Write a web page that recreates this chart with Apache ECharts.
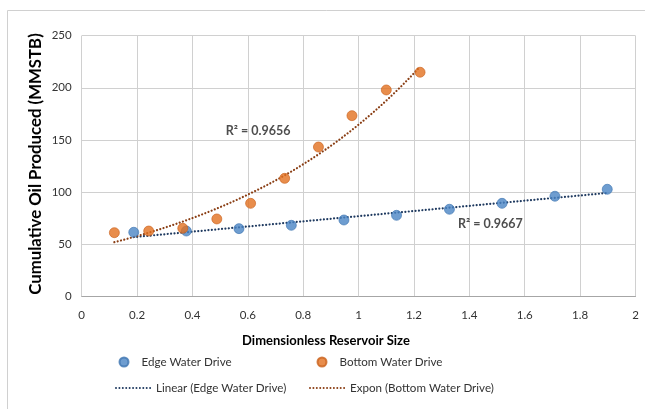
<!DOCTYPE html>
<html>
<head>
<meta charset="utf-8">
<script src="https://cdn.jsdelivr.net/npm/echarts@6/dist/echarts.min.js"></script>
<style>
  html, body { margin: 0; padding: 0; background: #fff; }
  #chart { width: 645px; height: 409px; }
</style>
</head>
<body>
<div id="chart"></div>
<script>
// Dimensionless reservoir size (x) and cumulative oil produced in MMSTB (y)
const edgeX = [0.188, 0.378, 0.568, 0.757, 0.947, 1.137, 1.328, 1.518, 1.709, 1.898];
const edgeY = [61.2, 62.4, 64.7, 67.9, 73.0, 77.5, 83.3, 89.0, 95.8, 102.5];
const bottomX = [0.118, 0.242, 0.365, 0.488, 0.610, 0.733, 0.855, 0.976, 1.100, 1.222];
const bottomY = [60.8, 62.4, 65.0, 74.0, 89.0, 113.0, 143.1, 173.2, 197.9, 214.9];

// Coefficient of determination labels for the two trendlines
const r2Labels = ['R² = 0.9656', 'R² = 0.9667'];
const r2Pos = [[0.637, 158.5], [1.476, 69.2]];

const FONT = 'Lato';

// Least-squares fit y = a + b x
function linearFit(xs, ys) {
  const n = xs.length;
  let sx = 0, sy = 0, sxx = 0, sxy = 0;
  for (let i = 0; i < n; i++) { sx += xs[i]; sy += ys[i]; sxx += xs[i] * xs[i]; sxy += xs[i] * ys[i]; }
  const b = (n * sxy - sx * sy) / (n * sxx - sx * sx);
  const a = (sy - b * sx) / n;
  return { a, b };
}
// Exponential fit y = A e^(k x), fitted on ln y
function expFit(xs, ys) {
  const f = linearFit(xs, ys.map(Math.log));
  return { A: Math.exp(f.a), k: f.b };
}

const lin = linearFit(edgeX, edgeY);
const ex = expFit(bottomX, bottomY);
const xMinE = Math.min(...edgeX), xMaxE = Math.max(...edgeX);
const linLine = [[xMinE, lin.a + lin.b * xMinE], [xMaxE, lin.a + lin.b * xMaxE]];
const xMinB = Math.min(...bottomX), xMaxB = Math.max(...bottomX);
const expLine = [];
for (let i = 0; i <= 60; i++) {
  const x = xMinB + (xMaxB - xMinB) * i / 60;
  expLine.push([x, ex.A * Math.exp(ex.k * x)]);
}

const blue = '#4A85C4';
const orange = '#E2701F';
const blueTrend = '#1F3A60';
const orangeTrend = '#8A3E14';
const dots = { width: 2.2, type: [0.01, 3.4], cap: 'round' };

const chart = echarts.init(document.getElementById('chart'), null, { renderer: 'canvas' });

const legendBase = {
  orient: 'horizontal',
  itemGap: 10,
  textStyle: { fontFamily: FONT, fontSize: 11.6, color: '#333' },
  selectedMode: false
};

chart.setOption({
  animation: false,
  backgroundColor: '#fff',
  textStyle: { fontFamily: FONT },
  grid: { left: 81.7, right: 9.5, top: 35.7, bottom: 113, containLabel: false },
  xAxis: {
    type: 'value', min: 0, max: 2, interval: 0.2,
    axisLine: { show: true, lineStyle: { color: '#A6A6A6', width: 1 } },
    axisTick: { show: false },
    axisLabel: { fontFamily: FONT, fontSize: 11.5, color: '#333', margin: 13 },
    splitLine: { show: true, lineStyle: { color: '#D0D0D0', width: 1 } }
  },
  yAxis: {
    type: 'value', min: 0, max: 250, interval: 50,
    axisLine: { show: false },
    axisTick: { show: false },
    axisLabel: { fontFamily: FONT, fontSize: 11.5, color: '#333', margin: 10 },
    splitLine: { show: true, lineStyle: { color: '#D0D0D0', width: 1 } }
  },
  legend: [
    Object.assign({}, legendBase, { data: [{ name: 'Edge Water Drive', icon: 'circle' }], left: 113.5, top: 351, itemWidth: 25, itemHeight: 9 }),
    Object.assign({}, legendBase, { data: [{ name: 'Bottom Water Drive', icon: 'circle' }], left: 311.5, top: 351, itemWidth: 25, itemHeight: 9 }),
    Object.assign({}, legendBase, { data: ['Linear (Edge Water Drive)'], left: 110, top: 377, itemWidth: 35, itemHeight: 9, itemStyle: { opacity: 0 } }),
    Object.assign({}, legendBase, { data: ['Expon (Bottom Water Drive)'], left: 304, top: 377, itemWidth: 35, itemHeight: 9, itemStyle: { opacity: 0 } })
  ],
  graphic: [
    { type: 'rect', shape: { x: 7.5, y: 10.5, width: 700, height: 500 }, style: { fill: 'none', stroke: '#D0D0D0', lineWidth: 1 }, silent: true, z: -10 },
    { type: 'text', x: 326, y: 341, style: { text: 'Dimensionless Reservoir Size', font: 'bold 13px ' + FONT, fill: '#000', align: 'center', verticalAlign: 'middle' } },
    { type: 'text', x: 36, y: 164, rotation: Math.PI / 2, style: { text: 'Cumulative Oil Produced (MMSTB)', font: 'bold 16.8px ' + FONT, fill: '#000', align: 'center', verticalAlign: 'middle' } }
  ],
  series: [
    {
      name: 'Linear (Edge Water Drive)', type: 'line', data: linLine, symbol: 'none', z: 2,
      lineStyle: Object.assign({ color: blueTrend }, dots),
      itemStyle: { color: blueTrend }
    },
    {
      name: 'Expon (Bottom Water Drive)', type: 'line', data: expLine, symbol: 'none', z: 2,
      lineStyle: Object.assign({ color: orangeTrend }, dots),
      itemStyle: { color: orangeTrend }
    },
    {
      name: 'Edge Water Drive', type: 'scatter', symbol: 'circle', symbolSize: 10, z: 3,
      data: edgeX.map((x, i) => [x, edgeY[i]]),
      itemStyle: { color: blue, borderColor: '#3D74B0', borderWidth: 0.8 }
    },
    {
      name: 'Bottom Water Drive', type: 'scatter', symbol: 'circle', symbolSize: 10, z: 3,
      data: bottomX.map((x, i) => [x, bottomY[i]]),
      itemStyle: { color: orange, borderColor: '#C9601A', borderWidth: 0.8 }
    },
    {
      name: 'r2', type: 'scatter', symbolSize: 0, silent: true, z: 4,
      data: r2Pos.map((p, i) => ({ value: p, label: { formatter: r2Labels[i] } })),
      label: { show: true, position: 'inside', fontFamily: FONT, fontSize: 12.5, fontWeight: 'bold', color: '#222' }
    }
  ]
});
</script>
</body>
</html>
